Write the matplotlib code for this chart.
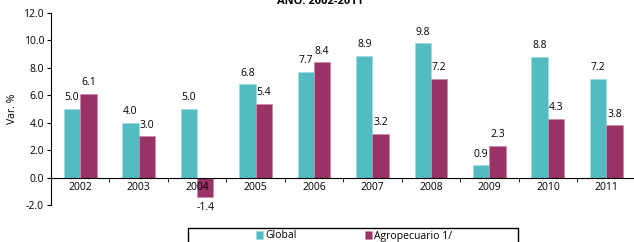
import matplotlib.pyplot as plt
import numpy as np
from matplotlib.patches import Rectangle

plt.rcParams['font.family'] = ['Open Sans', 'DejaVu Sans']

years = ['2002', '2003', '2004', '2005', '2006', '2007', '2008', '2009', '2010', '2011']
global_var = [5.0, 4.0, 5.0, 6.8, 7.7, 8.9, 9.8, 0.9, 8.8, 7.2]
agro_var = [6.1, 3.0, -1.4, 5.4, 8.4, 3.2, 7.2, 2.3, 4.3, 3.8]

teal = '#53BCC2'
maroon = '#993366'

fig = plt.figure(figsize=(6.34, 2.42), dpi=100)
ax = fig.add_axes([0.0804, 0.1529, 0.922, 0.7934])

x = np.arange(len(years))
w = 0.28
b1 = ax.bar(x - w / 2, global_var, w, color=teal, edgecolor='#9fdde0', linewidth=0.5, label='Global')
b2 = ax.bar(x + w / 2, agro_var, w, color=maroon, edgecolor='#c98aa8', linewidth=0.5, label='Agropecuario 1/')

# etiquetas de datos
for rect, v in zip(b1, global_var):
    ax.annotate('%.1f' % v, (rect.get_x() + rect.get_width() / 2, v), xytext=(0, 4),
                textcoords='offset points', ha='center', va='bottom', fontsize=7.5)
for rect, v in zip(b2, agro_var):
    off = 4 if v >= 0 else -4
    ax.annotate('%.1f' % v, (rect.get_x() + rect.get_width() / 2, v), xytext=(0, off),
                textcoords='offset points', ha='center', va='bottom' if v >= 0 else 'top', fontsize=7.5)

ax.spines['top'].set_visible(False)
ax.spines['right'].set_visible(False)
ax.spines['bottom'].set_position(('data', 0))

ax.set_xlim(-0.5, len(years) - 0.5)
ax.set_ylim(-2, 12)
yt = np.arange(-2, 12.1, 2)
ax.set_yticks(yt)
ax.set_yticklabels(['%.1f' % t for t in yt])
ax.set_xticks(x)
ax.set_xticklabels(years)
ax.set_xticks(np.arange(-0.5, len(years), 1), minor=True)
ax.tick_params(axis='x', which='major', length=0, pad=3, labelsize=7.5)
ax.tick_params(axis='x', which='minor', length=3, direction='out')
ax.tick_params(axis='y', length=3, direction='out', pad=2, labelsize=7.5)

ax.set_ylabel('Var. %', fontsize=7.5, labelpad=4)

fig.text(320 / 634, 1 - 4 / 242, 'AÑO: 2002-2011', ha='center', va='baseline',
         fontsize=8, fontweight='bold')

# recuadro de la leyenda
fig.patches.append(Rectangle((188 / 634, -0.05), 330 / 634, 0.05 + 14 / 242,
                             transform=fig.transFigure, fill=False, edgecolor='black',
                             linewidth=1))
fig.legend(handles=[b1, b2], loc='center', bbox_to_anchor=(354 / 634, 1 - 236 / 242),
           ncol=2, frameon=False, fontsize=7.5, handlelength=0.7, handleheight=0.7,
           handletextpad=0.2, columnspacing=6.5)

fig.savefig('out.png', dpi=100)
